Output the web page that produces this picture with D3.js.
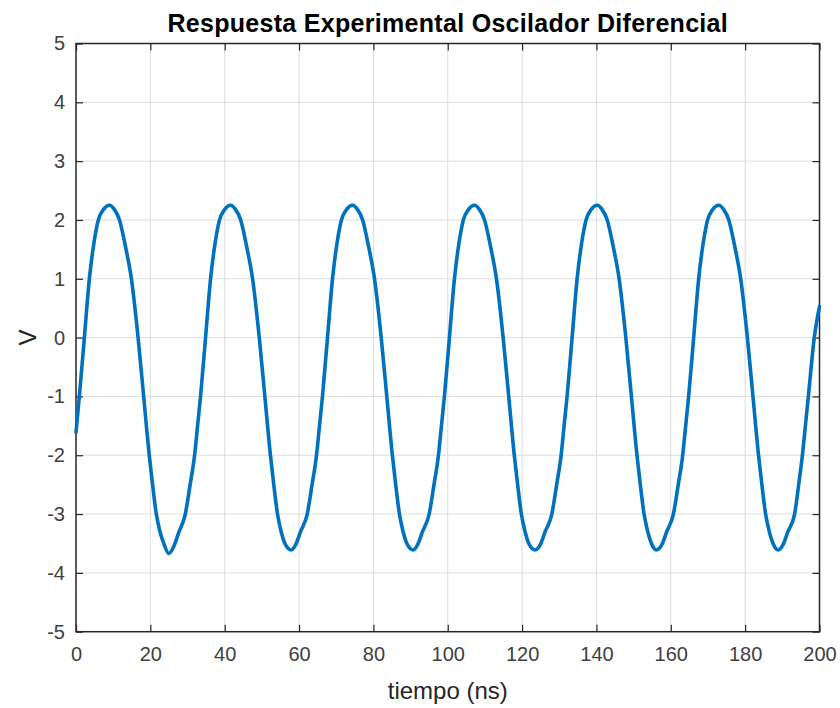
<!DOCTYPE html>
<html>
<head>
<meta charset="utf-8">
<script src="https://cdn.jsdelivr.net/npm/d3@7/dist/d3.min.js"></script>
<style>
  html, body { margin: 0; padding: 0; background: #fff; }
  svg { display: block; font-family: "Liberation Sans", Arial, Helvetica, sans-serif; }
</style>
</head>
<body>
<svg id="chart" width="840" height="708"></svg>
<script>
// ---- data ----
const title = "Respuesta Experimental Oscilador Diferencial";
const xLabel = "tiempo (ns)";
const yLabel = "V";
const xTicks = [0, 20, 40, 60, 80, 100, 120, 140, 160, 180, 200];
const yTicks = [-5, -4, -3, -2, -1, 0, 1, 2, 3, 4, 5];

const timeNs = [
  0, 0.9, 2.25, 3.6, 4.8, 6.0, 7.4, 9.0,
  10.3, 11.7, 13.3, 14.9, 16.7, 18.2, 19.7, 20.6, 21.6, 22.6, 23.6, 24.95,
  26.3, 27.6, 29.4, 30.7, 31.9, 32.7, 33.5, 34.85, 36.2, 37.4, 38.6, 40.0, 41.6,
  42.9, 44.3, 45.9, 47.5, 49.3, 50.8, 52.3, 53.2, 54.2, 55.2, 56.2, 57.9,
  59.1, 60.4, 62.2, 63.5, 64.7, 65.5, 66.3, 67.65, 69.0, 70.2, 71.4, 72.8, 74.4,
  75.7, 77.1, 78.7, 80.3, 82.1, 83.6, 85.1, 86.0, 87.0, 88.0, 89.0, 90.7,
  91.9, 93.2, 95.0, 96.3, 97.5, 98.3, 99.1, 100.45, 101.8, 103.0, 104.2, 105.6, 107.2,
  108.5, 109.9, 111.5, 113.1, 114.9, 116.4, 117.9, 118.8, 119.8, 120.8, 121.8, 123.5,
  124.9, 126.2, 128.0, 129.3, 130.5, 131.3, 132.1, 133.45, 134.8, 136.0, 137.2, 138.6, 140.2,
  141.5, 142.9, 144.5, 146.1, 147.9, 149.4, 150.9, 151.8, 152.8, 153.8, 154.8, 156.1,
  157.6, 158.9, 160.7, 162.0, 163.2, 164.0, 164.8, 166.15, 167.5, 168.7, 169.9, 171.3, 172.9,
  174.2, 175.6, 177.2, 178.8, 180.6, 182.1, 183.6, 184.5, 185.5, 186.5, 187.5, 188.9,
  190.2, 191.5, 193.3, 194.4, 195.4, 196.2, 197.0, 198.6, 200
];
const voltage = [
  -1.61, -1.0, 0.0, 1.0, 1.6, 2.0, 2.18, 2.25,
  2.18, 2.0, 1.55, 1.0, 0.0, -1.0, -2.0, -2.5, -3.0, -3.3, -3.5, -3.67,
  -3.55, -3.32, -3.0, -2.5, -2.0, -1.5, -1.0, 0.0, 1.0, 1.6, 2.0, 2.18, 2.25,
  2.18, 2.0, 1.55, 1.0, 0.0, -1.0, -2.0, -2.5, -3.0, -3.3, -3.5, -3.61,
  -3.52, -3.3, -3.0, -2.5, -2.0, -1.5, -1.0, 0.0, 1.0, 1.6, 2.0, 2.18, 2.25,
  2.18, 2.0, 1.55, 1.0, 0.0, -1.0, -2.0, -2.5, -3.0, -3.3, -3.5, -3.61,
  -3.52, -3.3, -3.0, -2.5, -2.0, -1.5, -1.0, 0.0, 1.0, 1.6, 2.0, 2.18, 2.25,
  2.18, 2.0, 1.55, 1.0, 0.0, -1.0, -2.0, -2.5, -3.0, -3.3, -3.5, -3.61,
  -3.52, -3.3, -3.0, -2.5, -2.0, -1.5, -1.0, 0.0, 1.0, 1.6, 2.0, 2.18, 2.25,
  2.18, 2.0, 1.55, 1.0, 0.0, -1.0, -2.0, -2.5, -3.0, -3.3, -3.5, -3.61,
  -3.52, -3.3, -3.0, -2.5, -2.0, -1.5, -1.0, 0.0, 1.0, 1.6, 2.0, 2.18, 2.25,
  2.18, 2.0, 1.55, 1.0, 0.0, -1.0, -2.0, -2.5, -3.0, -3.3, -3.5, -3.61,
  -3.52, -3.3, -3.0, -2.5, -2.0, -1.5, -1.0, 0.0, 0.53
];

// ---- layout ----
const W = 840, H = 708;
const m = { left: 76, top: 43.5, right: 840 - 819.5, bottom: 708 - 631.7 };
const iw = W - m.left - m.right, ih = H - m.top - m.bottom;

const svg = d3.select("#chart");
const g = svg.append("g").attr("transform", `translate(${m.left},${m.top})`);

const x = d3.scaleLinear().domain([0, 200]).range([0, iw]);
const y = d3.scaleLinear().domain([-5, 5]).range([ih, 0]);

const axisColor = "#262626";
const fmt = d => String(d);

// grid
g.append("g").selectAll("line").data(xTicks.slice(1, -1)).join("line")
  .attr("x1", d => x(d)).attr("x2", d => x(d))
  .attr("y1", 0).attr("y2", ih)
  .attr("stroke", "#dcdcdc").attr("stroke-width", 1);
g.append("g").selectAll("line").data(yTicks.slice(1, -1)).join("line")
  .attr("y1", d => y(d)).attr("y2", d => y(d))
  .attr("x1", 0).attr("x2", iw)
  .attr("stroke", "#dcdcdc").attr("stroke-width", 1);

// axes (ticks inward on all four sides)
const tl = 7;
const styleAxis = sel => {
  sel.select(".domain").remove();
  sel.selectAll(".tick line").attr("stroke", axisColor).attr("stroke-width", 1.2);
  sel.selectAll("text").attr("fill", "#404040").attr("font-size", 20)
     .attr("font-family", "Liberation Sans, Arial, sans-serif");
};
g.append("g").attr("transform", `translate(0,${ih})`)
  .call(d3.axisBottom(x).tickValues(xTicks).tickSize(-tl).tickPadding(15).tickFormat(fmt))
  .call(styleAxis);
g.append("g")
  .call(d3.axisLeft(y).tickValues(yTicks).tickSize(-tl).tickPadding(11).tickFormat(fmt))
  .call(styleAxis);
g.append("g")
  .call(d3.axisTop(x).tickValues(xTicks).tickSize(-tl).tickFormat(""))
  .call(styleAxis);
g.append("g").attr("transform", `translate(${iw},0)`)
  .call(d3.axisRight(y).tickValues(yTicks).tickSize(-tl).tickFormat(""))
  .call(styleAxis);

// box
g.append("rect").attr("x", 0).attr("y", 0).attr("width", iw).attr("height", ih)
  .attr("fill", "none").attr("stroke", axisColor).attr("stroke-width", 1.5);

// line
const pts = timeNs.map((t, i) => [t, voltage[i]]);
g.append("path").datum(pts)
  .attr("fill", "none").attr("stroke", "#0072BD").attr("stroke-width", 3.6)
  .attr("stroke-linejoin", "round").attr("stroke-linecap", "round")
  .attr("d", d3.line().x(d => x(d[0])).y(d => y(d[1])).curve(d3.curveMonotoneX));

// labels
svg.append("text").attr("x", m.left + iw / 2).attr("y", 32)
  .attr("text-anchor", "middle").attr("font-size", 25).attr("font-weight", "bold")
  .attr("letter-spacing", 0.3).attr("fill", "#000").text(title);
svg.append("text").attr("x", m.left + iw / 2).attr("y", 699)
  .attr("text-anchor", "middle").attr("font-size", 24).attr("fill", "#262626").text(xLabel);
svg.append("text").attr("transform", `translate(36,${m.top + ih / 2}) rotate(-90)`)
  .attr("text-anchor", "middle").attr("font-size", 24).attr("fill", "#262626").text(yLabel);
</script>
</body>
</html>
